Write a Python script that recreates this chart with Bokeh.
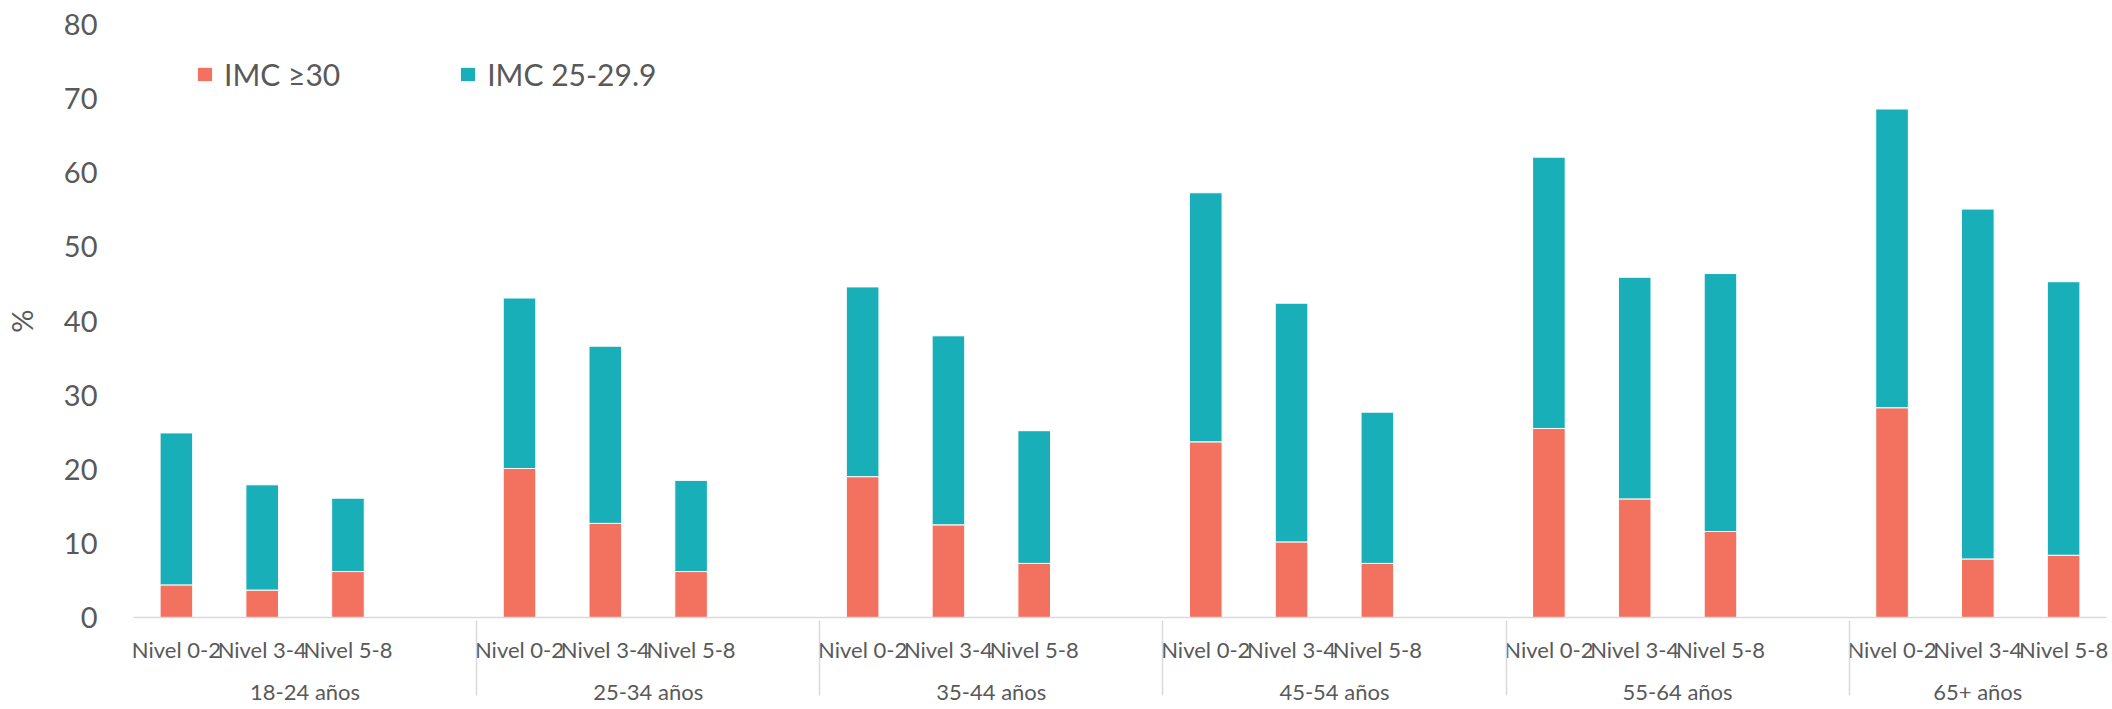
from bokeh.plotting import figure
from bokeh.models import ColumnDataSource, FactorRange, FixedTicker, Legend, LegendItem
from bokeh.embed import file_html
from bokeh.resources import INLINE

# ---- data ----
age_groups = ["18-24 años", "25-34 años", "35-44 años", "45-54 años", "55-64 años", "65+ años"]
levels = ["Nivel 0-2", "Nivel 3-4", "Nivel 5-8"]
imc_30 = [4.4, 3.7, 6.2,
          20.1, 12.7, 6.2,
          19.0, 12.5, 7.3,
          23.7, 10.2, 7.3,
          25.5, 16.0, 11.6,
          28.3, 7.9, 8.4]
imc_25_29 = [20.5, 14.2, 9.9,
             23.0, 23.9, 12.3,
             25.6, 25.5, 17.9,
             33.6, 32.2, 20.4,
             36.6, 29.9, 34.8,
             40.3, 47.2, 36.9]
series_names = ["IMC ≥30", "IMC 25-29.9"]
colors = ["#F2725F", "#18AFB8"]
y_ticks = [0, 10, 20, 30, 40, 50, 60, 70, 80]

FONT = "Lato"
GREY = "#595959"

factors = []
for i, g in enumerate(age_groups):
    for lv in levels:
        factors.append((g, lv))
    if i < len(age_groups) - 1:
        factors.append((g, " "))

bar_x = [(g, lv) for g in age_groups for lv in levels]
src = ColumnDataSource(dict(x=bar_x, obeso=imc_30, sobrepeso=imc_25_29))

x_range = FactorRange(*factors, factor_padding=0, subgroup_padding=0,
                      group_padding=0, range_padding=0)

p = figure(x_range=x_range, y_range=(0, 80), width=2112, height=709,
           output_backend="svg", toolbar_location=None,
           min_border_left=133, min_border_right=6,
           min_border_top=24, min_border_bottom=92)

renderers = p.vbar_stack(["obeso", "sobrepeso"], x="x", width=0.38, source=src,
                         fill_color=colors, line_color="white", line_width=1)

legend = Legend(items=[LegendItem(label=series_names[i], renderers=[renderers[i]])
                       for i in range(2)],
                orientation="horizontal", location=(62, 525),
                label_text_font=FONT, label_text_font_size="30px",
                label_text_color=GREY, glyph_width=19, glyph_height=18,
                label_standoff=10, spacing=118, padding=5, margin=0,
                background_fill_alpha=0, border_line_color=None)
p.add_layout(legend)

p.xgrid.grid_line_color = None
p.ygrid.grid_line_color = None
p.outline_line_color = None

yax = p.yaxis[0]
yax.ticker = FixedTicker(ticks=y_ticks)
yax.axis_line_color = None
yax.major_tick_line_color = None
yax.minor_tick_line_color = None
yax.major_label_text_font = FONT
yax.major_label_text_font_size = "29px"
yax.major_label_text_color = GREY
yax.major_label_standoff = 30
yax.axis_label = "%"
yax.axis_label_text_font = FONT
yax.axis_label_text_font_size = "29px"
yax.axis_label_text_font_style = "normal"
yax.axis_label_text_color = GREY
yax.axis_label_standoff = 22

xax = p.xaxis[0]
xax.axis_line_color = "#d9d9d9"
xax.axis_line_width = 1.5
xax.major_tick_line_color = None
xax.minor_tick_line_color = None
xax.major_label_text_font = FONT
xax.major_label_text_font_size = "22px"
xax.major_label_text_color = GREY
xax.major_label_standoff = 12
xax.group_text_font = FONT
xax.group_text_font_size = "22px"
xax.group_text_font_style = "normal"
xax.group_text_color = GREY
xax.separator_line_color = "#d9d9d9"
xax.separator_line_width = 1.5

open("out.html", "w").write(file_html(p, INLINE))
